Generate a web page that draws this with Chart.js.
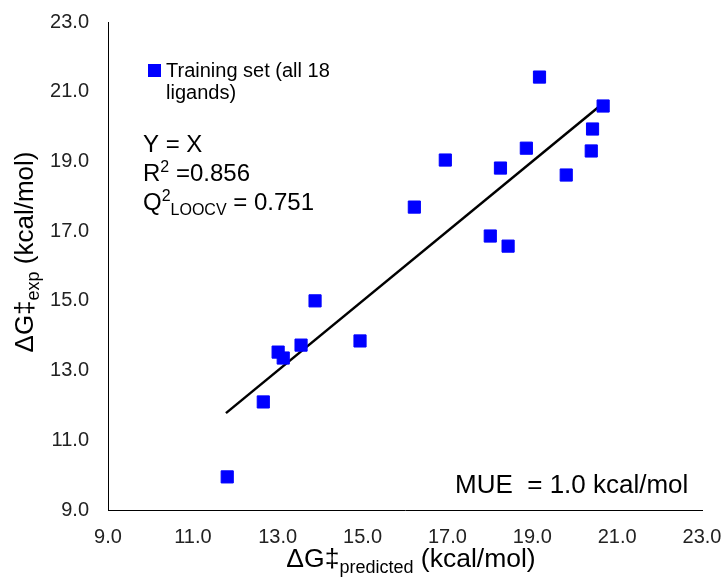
<!DOCTYPE html>
<html>
<head>
<meta charset="utf-8">
<title>Predicted vs experimental barriers</title>
<script src="https://cdn.jsdelivr.net/npm/chart.js@4.4.0/dist/chart.umd.min.js"></script>
<style>
  html, body { margin: 0; padding: 0; background: #fff; }
</style>
</head>
<body>
<canvas id="scatter" width="726" height="584"></canvas>
<script>
// values (kcal/mol)
var predicted = [11.81, 12.66, 13.01, 13.13, 13.55, 13.88, 14.94, 16.22, 16.95,
                 18.01, 18.25, 18.43, 18.86, 19.17, 19.80, 20.39, 20.42, 20.67];
var experimental = [9.95, 12.10, 13.53, 13.36, 13.73, 15.00, 13.85, 17.69, 19.04,
                    16.86, 18.81, 16.57, 19.38, 21.42, 18.61, 19.30, 19.93, 20.59];
var identityEnds = [11.78, 20.67];   // Y = X line drawn over the predicted range
var axisTicks = [9, 11, 13, 15, 17, 19, 21, 23];

var FONT = '"Liberation Sans", Arial, sans-serif';
var BLUE = '#0000ff';

var points = predicted.map(function (x, i) { return { x: x, y: experimental[i] }; });
var identity = identityEnds.map(function (v) { return { x: v, y: v }; });

// draws text made of normal / sub / sup pieces, returns end x
function richText(ctx, parts, x, y, size, measureOnly) {
  parts.forEach(function (p) {
    var small = p[1] ? Math.round(size * 0.68) : size;
    var dy = p[1] === 'sub' ? size * 0.22 : (p[1] === 'sup' ? -size * 0.36 : 0);
    ctx.font = small + 'px ' + FONT;
    if (!measureOnly) ctx.fillText(p[0], x, y + dy);
    x += ctx.measureText(p[0]).width;
  });
  return x;
}

var xTitle = [['\u0394G\u2021', ''], ['predicted', 'sub'], [' (kcal/mol)', '']];
var yTitle = [['\u0394G\u2021', ''], ['exp', 'sub'], [' (kcal/mol)', '']];

var annotations = {
  id: 'annotations',
  afterDraw: function (chart) {
    var ctx = chart.ctx;
    ctx.save();
    ctx.textBaseline = 'alphabetic';
    ctx.textAlign = 'left';

    // legend
    ctx.fillStyle = BLUE;
    ctx.fillRect(148, 64, 13, 13);
    ctx.fillStyle = '#000';
    ctx.font = '20px ' + FONT;
    ctx.fillText('Training set (all 18', 166, 77);
    ctx.fillText('ligands)', 166, 99);

    // statistics
    richText(ctx, [['Y = X', '']], 143, 152, 24);
    richText(ctx, [['R', ''], ['2', 'sup'], [' =0.856', '']], 143, 181, 24);
    richText(ctx, [['Q', ''], ['2', 'sup'], ['LOOCV', 'sub'], [' = 0.751', '']], 143, 210, 24);
    richText(ctx, [['MUE  = 1.0 kcal/mol', '']], 455, 493, 26);

    // axis titles
    var w = richText(ctx, xTitle, 0, 0, 26.5, true);
    richText(ctx, xTitle, 411 - w / 2, 567, 26.5);

    w = richText(ctx, yTitle, 0, 0, 26, true);
    ctx.translate(33, 252);
    ctx.rotate(-Math.PI / 2);
    richText(ctx, yTitle, -w / 2, 0, 26);
    ctx.restore();
  }
};

function fixedTicks(axis) {
  axis.ticks = axisTicks.map(function (v) { return { value: v }; });
}

new Chart(document.getElementById('scatter'), {
  type: 'scatter',
  data: {
    datasets: [
      {
        label: 'Training set (all 18 ligands)',
        data: points,
        pointStyle: 'rect',
        pointRadius: 8.6,
        backgroundColor: BLUE,
        borderColor: BLUE,
        borderWidth: 1,
        order: 0
      },
      {
        label: 'Y = X',
        data: identity,
        showLine: true,
        borderColor: '#000',
        borderWidth: 2.5,
        pointRadius: 0,
        fill: false,
        order: 1
      }
    ]
  },
  options: {
    responsive: false,
    animation: false,
    layout: { padding: { top: 22, right: 24, left: 0, bottom: 0 } },
    plugins: {
      legend: { display: false },
      tooltip: { enabled: false }
    },
    scales: {
      x: {
        min: 9, max: 23,
        grid: { display: false },
        border: { display: true, color: '#000', width: 1 },
        afterBuildTicks: fixedTicks,
        afterFit: function (scale) {
          scale.height = 74;
          scale.paddingLeft = 0;
          scale.paddingRight = 0;
        },
        ticks: {
          color: '#222',
          padding: 7,
          font: { family: FONT, size: 20 },
          maxRotation: 0,
          callback: function (v) { return Number(v).toFixed(1); }
        }
      },
      y: {
        min: 9, max: 23,
        grid: { display: false },
        border: { display: true, color: '#000', width: 1 },
        afterBuildTicks: fixedTicks,
        afterFit: function (scale) {
          scale.width = 108;
          scale.paddingTop = 0;
          scale.paddingBottom = 0;
        },
        ticks: {
          color: '#222',
          padding: 11,
          font: { family: FONT, size: 20 },
          callback: function (v) { return Number(v).toFixed(1); }
        }
      }
    }
  },
  plugins: [annotations]
});
</script>
</body>
</html>
